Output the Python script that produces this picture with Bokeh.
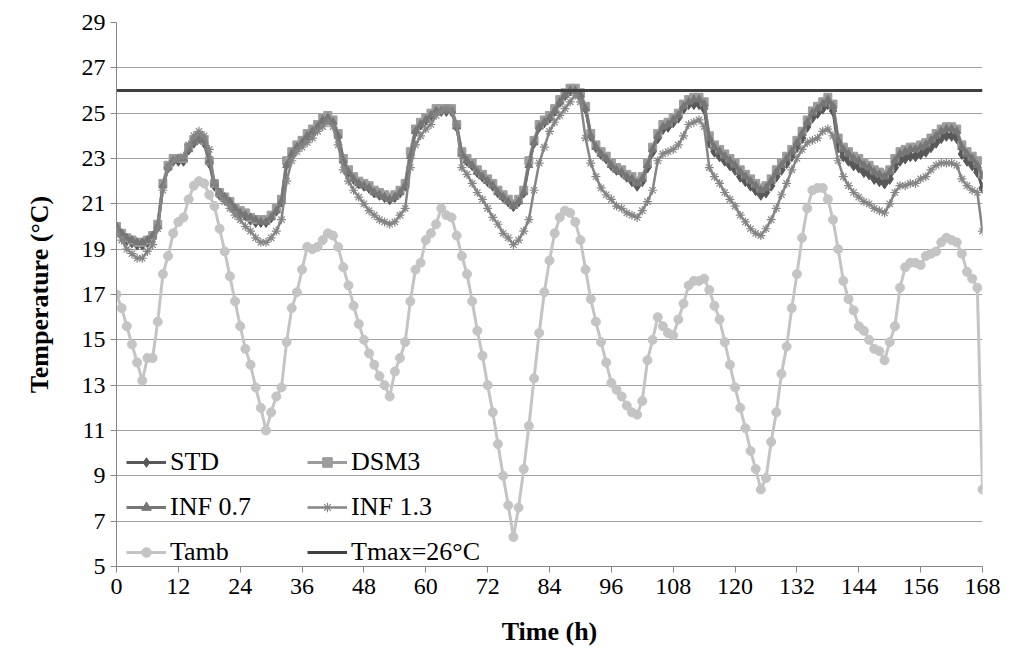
from bokeh.plotting import figure
from bokeh.models import Range1d, FixedTicker, Legend, LegendItem, ColumnDataSource
from bokeh.embed import file_html
from bokeh.resources import INLINE

hours = list(range(0, 169))

std = [19.9, 19.6, 19.4, 19.3, 19.2, 19.2, 19.3, 19.5, 20.0, 21.8,
       22.6, 22.9, 22.9, 22.9, 23.4, 23.7, 23.9, 23.7, 22.8, 21.8,
       21.4, 21.2, 21.0, 20.7, 20.6, 20.5, 20.3, 20.2, 20.2, 20.2,
       20.4, 20.7, 21.1, 22.8, 23.2, 23.5, 23.7, 24.0, 24.2, 24.4,
       24.7, 24.8, 24.6, 24.0, 22.9, 22.4, 22.1, 21.9, 21.8, 21.7,
       21.5, 21.4, 21.3, 21.2, 21.3, 21.5, 21.8, 23.2, 24.2, 24.5,
       24.7, 24.9, 25.1, 25.1, 25.1, 25.1, 24.4, 23.2, 22.9, 22.7,
       22.4, 22.2, 22.0, 21.8, 21.5, 21.3, 21.1, 20.9, 21.1, 21.5,
       22.8, 23.7, 24.4, 24.6, 24.8, 25.1, 25.5, 25.8, 26.0, 26.0,
       25.8, 25.2, 24.0, 23.5, 23.2, 23.0, 22.7, 22.5, 22.4, 22.2,
       22.0, 21.8, 22.0, 22.6, 23.3, 23.9, 24.3, 24.4, 24.6, 24.8,
       25.2, 25.4, 25.4, 25.4, 25.2, 23.7, 23.3, 23.1, 22.9, 22.7,
       22.5, 22.2, 22.0, 21.8, 21.6, 21.4, 21.5, 21.8, 22.2, 22.5,
       22.8, 23.1, 23.5, 23.9, 24.4, 24.8, 25.0, 25.2, 25.4, 25.1,
       23.5, 23.1, 22.9, 22.7, 22.6, 22.4, 22.3, 22.1, 22.0, 21.9,
       22.1, 22.6, 22.9, 23.0, 23.1, 23.1, 23.2, 23.3, 23.5, 23.7,
       23.9, 24.0, 24.0, 23.9, 23.2, 22.9, 22.7, 22.4, 21.7]

dsm3 = [20.0, 19.7, 19.5, 19.4, 19.3, 19.3, 19.4, 19.6, 20.1, 21.9,
        22.7, 23.0, 23.0, 23.0, 23.5, 23.8, 24.0, 23.8, 22.9, 21.9,
        21.5, 21.3, 21.1, 20.8, 20.7, 20.6, 20.4, 20.3, 20.3, 20.3,
        20.5, 20.8, 21.2, 22.9, 23.3, 23.6, 23.8, 24.1, 24.3, 24.5,
        24.8, 24.9, 24.7, 24.1, 23.0, 22.5, 22.2, 22.0, 21.9, 21.8,
        21.6, 21.5, 21.4, 21.3, 21.4, 21.6, 21.9, 23.3, 24.3, 24.6,
        24.8, 25.0, 25.2, 25.2, 25.2, 25.2, 24.5, 23.3, 23.0, 22.8,
        22.5, 22.3, 22.1, 21.9, 21.6, 21.4, 21.2, 21.0, 21.2, 21.6,
        22.9, 23.8, 24.5, 24.7, 24.9, 25.2, 25.6, 25.9, 26.1, 26.1,
        25.9, 25.3, 24.1, 23.6, 23.3, 23.1, 22.8, 22.6, 22.5, 22.3,
        22.2, 22.0, 22.2, 22.8, 23.5, 24.1, 24.5, 24.6, 24.8, 25.0,
        25.4, 25.6, 25.7, 25.7, 25.5, 24.0, 23.6, 23.4, 23.2, 23.0,
        22.8, 22.5, 22.3, 22.1, 21.9, 21.7, 21.8, 22.1, 22.5, 22.8,
        23.1, 23.4, 23.8, 24.2, 24.7, 25.1, 25.3, 25.5, 25.7, 25.4,
        23.9, 23.5, 23.3, 23.1, 23.0, 22.8, 22.7, 22.5, 22.4, 22.3,
        22.5, 23.0, 23.3, 23.4, 23.5, 23.5, 23.6, 23.7, 23.9, 24.1,
        24.3, 24.4, 24.4, 24.3, 23.6, 23.3, 23.1, 22.9, 22.3]

inf07 = [20.0, 19.7, 19.5, 19.4, 19.3, 19.3, 19.4, 19.6, 20.0, 21.8,
         22.6, 22.9, 23.0, 23.0, 23.4, 23.7, 23.9, 23.8, 22.9, 21.9,
         21.5, 21.3, 21.1, 20.8, 20.6, 20.5, 20.4, 20.3, 20.2, 20.2,
         20.4, 20.7, 21.1, 22.7, 23.2, 23.5, 23.7, 24.0, 24.2, 24.4,
         24.7, 24.8, 24.6, 24.0, 22.9, 22.4, 22.1, 21.9, 21.8, 21.7,
         21.5, 21.4, 21.3, 21.2, 21.3, 21.5, 21.8, 23.1, 24.2, 24.5,
         24.7, 24.9, 25.1, 25.1, 25.1, 25.1, 24.4, 23.2, 22.9, 22.7,
         22.4, 22.2, 22.0, 21.8, 21.5, 21.3, 21.1, 20.9, 21.1, 21.5,
         22.7, 23.7, 24.4, 24.6, 24.8, 25.1, 25.5, 25.8, 26.0, 26.0,
         25.8, 25.2, 24.0, 23.5, 23.2, 23.0, 22.7, 22.5, 22.4, 22.2,
         22.1, 21.9, 22.1, 22.7, 23.4, 24.0, 24.4, 24.5, 24.7, 24.9,
         25.3, 25.5, 25.6, 25.6, 25.4, 23.9, 23.5, 23.3, 23.1, 22.9,
         22.7, 22.4, 22.2, 22.0, 21.8, 21.6, 21.7, 22.0, 22.4, 22.7,
         23.0, 23.3, 23.7, 24.1, 24.6, 25.0, 25.2, 25.4, 25.6, 25.3,
         23.8, 23.4, 23.2, 23.0, 22.9, 22.7, 22.6, 22.4, 22.3, 22.2,
         22.4, 22.9, 23.2, 23.3, 23.4, 23.4, 23.5, 23.6, 23.8, 24.0,
         24.2, 24.3, 24.3, 24.2, 23.5, 23.2, 23.0, 22.7, 22.2]

inf13 = [19.9, 19.4, 19.0, 18.8, 18.6, 18.6, 18.9, 19.2, 19.9, 21.6,
         22.6, 22.9, 23.0, 23.1, 23.6, 24.0, 24.2, 24.0, 23.4, 21.9,
         21.4, 21.1, 20.8, 20.5, 20.3, 20.0, 19.8, 19.5, 19.3, 19.3,
         19.5, 19.8, 20.3, 22.0, 22.9, 23.3, 23.5, 23.7, 23.9, 24.2,
         24.4, 24.6, 24.4, 23.6, 22.5, 22.0, 21.6, 21.3, 21.0, 20.7,
         20.5, 20.3, 20.2, 20.1, 20.2, 20.5, 20.8, 22.6, 23.6, 24.0,
         24.3, 24.5, 24.9, 25.1, 25.2, 25.1, 24.5, 22.6, 22.3, 21.9,
         21.5, 21.2, 20.8, 20.4, 20.1, 19.7, 19.5, 19.2, 19.4, 19.8,
         20.3, 21.6, 22.8, 23.5, 24.2, 24.6, 24.9, 25.2, 25.5, 25.8,
         25.5, 23.9, 22.8, 22.2, 21.7, 21.4, 21.2, 20.9, 20.8, 20.6,
         20.5, 20.4, 20.7, 21.1, 21.6, 22.9, 23.2, 23.3, 23.4, 23.6,
         24.0, 24.5, 24.6, 24.7, 24.4, 22.6, 22.2, 21.9, 21.5, 21.2,
         20.9, 20.5, 20.2, 19.9, 19.7, 19.6, 19.9, 20.3, 20.8, 21.4,
         21.9, 22.5, 23.0, 23.4, 23.7, 23.8, 23.9, 24.2, 24.3, 24.0,
         22.9, 22.2, 21.8, 21.5, 21.3, 21.1, 21.0, 20.8, 20.7, 20.6,
         21.0, 21.5, 21.8, 21.8, 21.9, 21.9, 22.1, 22.2, 22.5, 22.7,
         22.8, 22.8, 22.8, 22.7, 22.1, 21.8, 21.6, 21.5, 19.8]

tamb = [17.0, 16.4, 15.6, 14.8, 14.0, 13.2, 14.2, 14.2, 15.8, 17.9,
        18.7, 19.7, 20.2, 20.4, 21.2, 21.8, 22.0, 21.9, 21.4, 20.9,
        19.9, 18.9, 17.8, 16.7, 15.6, 14.6, 13.9, 12.9, 12.0, 11.0,
        11.8, 12.5, 12.9, 14.9, 16.4, 17.1, 18.1, 19.1, 19.0, 19.1,
        19.4, 19.7, 19.6, 19.1, 18.2, 17.4, 16.5, 15.7, 15.0, 14.4,
        13.9, 13.4, 13.0, 12.5, 13.6, 14.2, 14.9, 16.7, 18.1, 18.4,
        19.4, 19.7, 20.1, 20.8, 20.5, 20.4, 19.6, 18.7, 17.9, 16.7,
        15.4, 14.3, 13.0, 11.8, 10.4, 9.0, 7.7, 6.3, 7.6, 9.3,
        11.2, 13.3, 15.3, 17.1, 18.5, 19.7, 20.4, 20.7, 20.6, 20.2,
        19.4, 18.1, 16.8, 15.8, 14.9, 14.0, 13.1, 12.8, 12.5, 12.1,
        11.8, 11.7, 12.3, 14.1, 15.0, 16.0, 15.6, 15.3, 15.2, 15.9,
        16.6, 17.4, 17.6, 17.6, 17.7, 17.2, 16.5, 15.9, 14.9, 13.9,
        12.9, 12.0, 11.1, 10.1, 9.3, 8.4, 8.9, 10.5, 11.8, 13.5,
        14.7, 16.4, 17.9, 19.5, 20.8, 21.6, 21.7, 21.7, 21.2, 20.3,
        19.0, 17.6, 16.8, 16.3, 15.6, 15.4, 15.0, 14.6, 14.5, 14.1,
        14.9, 15.6, 17.3, 18.2, 18.4, 18.4, 18.3, 18.7, 18.8, 18.9,
        19.3, 19.5, 19.4, 19.3, 18.8, 18.0, 17.7, 17.3, 8.4]

tmax_value = 26
x_ticks = list(range(0, 169, 12))
y_ticks = list(range(5, 30, 2))

FONT = "Liberation Serif"

p = figure(width=1003, height=660, x_range=Range1d(0, 168), y_range=Range1d(5, 29),
           output_backend="svg", toolbar_location=None,
           min_border_left=116, min_border_right=21, min_border_top=22, min_border_bottom=94)
p.outline_line_color = None
p.background_fill_color = "white"
p.border_fill_color = "white"
p.xgrid.visible = False
p.ygrid.grid_line_color = "#a0a0a0"
p.ygrid.grid_line_width = 1

p.xaxis.ticker = FixedTicker(ticks=x_ticks)
p.yaxis.ticker = FixedTicker(ticks=y_ticks)
for ax in (p.xaxis, p.yaxis):
    ax.axis_line_color = "#868686"
    ax.axis_line_width = 1
    ax.major_tick_line_color = "#868686"
    ax.major_tick_in = 0
    ax.major_tick_out = 6
    ax.minor_tick_line_color = None
    ax.major_label_text_font = FONT
    ax.major_label_text_font_size = "24px"
    ax.major_label_text_color = "black"
    ax.axis_label_text_font = FONT
    ax.axis_label_text_font_size = "26px"
    ax.axis_label_text_font_style = "bold"
    ax.axis_label_text_color = "black"
p.xaxis.axis_label = "Time (h)"
p.yaxis.axis_label = "Temperature (°C)"
p.xaxis.major_label_standoff = 6
p.yaxis.major_label_standoff = 5
p.xaxis.axis_label_standoff = 20
p.yaxis.axis_label_standoff = 25

src = ColumnDataSource(dict(h=hours, std=std, dsm3=dsm3, inf07=inf07, inf13=inf13, tamb=tamb))

c_std = "#585858"
c_dsm = "#9c9c9c"
c_i07 = "#767676"
c_i13 = "#858585"
c_tamb = "#c4c4c4"
c_tmax = "#404040"

l1 = p.line("h", "std", source=src, line_color=c_std, line_width=3)
m1 = p.scatter("h", "std", source=src, marker="diamond", size=11, color=c_std)
l2 = p.line("h", "dsm3", source=src, line_color=c_dsm, line_width=3)
m2 = p.scatter("h", "dsm3", source=src, marker="square", size=8, color=c_dsm)
l3 = p.line("h", "inf07", source=src, line_color=c_i07, line_width=3)
m3 = p.scatter("h", "inf07", source=src, marker="triangle", size=8, color=c_i07)
l4 = p.line("h", "inf13", source=src, line_color=c_i13, line_width=2.5)
m4 = p.scatter("h", "inf13", source=src, marker="asterisk", size=9, line_color=c_i13, line_width=1.2)
l5 = p.line("h", "tamb", source=src, line_color=c_tamb, line_width=3)
m5 = p.scatter("h", "tamb", source=src, marker="circle", size=9, color=c_tamb)
l6 = p.line([hours[0], hours[-1]], [tmax_value, tmax_value], line_color=c_tmax, line_width=3)

items = [
    LegendItem(label="STD", renderers=[l1, m1]),
    LegendItem(label="INF 0.7", renderers=[l3, m3]),
    LegendItem(label="Tamb", renderers=[l5, m5]),
    LegendItem(label="DSM3", renderers=[l2, m2]),
    LegendItem(label="INF 1.3", renderers=[l4, m4]),
    LegendItem(label="Tmax=26°C", renderers=[l6]),
]
legend = Legend(items=items, location=(10, -1), orientation="vertical", nrows=3,
                background_fill_alpha=0, border_line_color=None,
                label_text_font=FONT, label_text_font_size="26px", label_text_color="black",
                glyph_width=40, glyph_height=24, label_height=24, label_width=122,
                label_standoff=4, spacing=15, padding=0, margin=0)
p.add_layout(legend, "center")

open("out.html", "w").write(file_html(p, INLINE))
